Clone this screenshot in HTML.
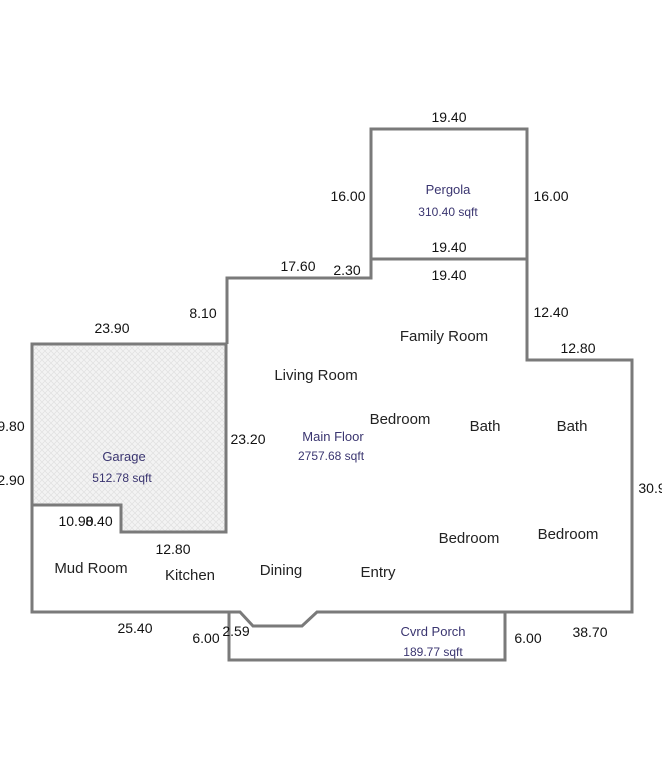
<!DOCTYPE html>
<html><head><meta charset="utf-8"><style>
html,body{margin:0;padding:0;background:#fff;}
svg{display:block;}
text{font-family:"Liberation Sans",Arial,sans-serif;}
.d{font-size:14px;fill:#111;}
.r{font-size:15px;fill:#222;}
.b{fill:#3a3570;}
</style></head><body>
<svg width="662" height="768" viewBox="0 0 662 768" xmlns="http://www.w3.org/2000/svg">
<defs>
<pattern id="h" width="6" height="6" patternUnits="userSpaceOnUse">
<rect width="6" height="6" fill="#f3f3f3"/>
<path d="M0 0L6 6M6 0L0 6" stroke="#e0e0e0" stroke-width="0.7"/>
</pattern>
</defs>
<g fill="none" stroke="#7a7a7a" stroke-width="3" stroke-linejoin="miter">
<polygon points="32,344 226,344 226,532 121,532 121,505 32,505" fill="url(#h)"/>
<rect x="371" y="129" width="156" height="130"/>
<polyline points="32,505 32,612 240,612 253,626 302,626 317,612 632,612 632,360 527,360 527,259 371,259 371,278 227,278 227,344"/>
<polyline points="229,612 229,660 505,660 505,612"/>
</g>
<g class="d" text-anchor="middle">
<text x="449" y="122">19.40</text>
<text x="348" y="201">16.00</text>
<text x="551" y="201">16.00</text>
<text x="449" y="252">19.40</text>
<text x="449" y="280">19.40</text>
<text x="298" y="271">17.60</text>
<text x="347" y="275">2.30</text>
<text x="203" y="318">8.10</text>
<text x="551" y="317">12.40</text>
<text x="578" y="353">12.80</text>
<text x="112" y="333">23.90</text>
<text x="11" y="431">9.80</text>
<text x="11" y="485">2.90</text>
<text x="248" y="444">23.20</text>
<text x="76" y="526">10.90</text>
<text x="99" y="526">8.40</text>
<text x="173" y="554">12.80</text>
<text x="135" y="633">25.40</text>
<text x="206" y="643">6.00</text>
<text x="236" y="636">2.59</text>
<text x="528" y="643">6.00</text>
<text x="590" y="637">38.70</text>
<text x="652" y="493">30.9</text>
</g>
<g class="r" text-anchor="middle">
<text x="444" y="341">Family Room</text>
<text x="316" y="380">Living Room</text>
<text x="400" y="424">Bedroom</text>
<text x="485" y="431">Bath</text>
<text x="572" y="431">Bath</text>
<text x="469" y="543">Bedroom</text>
<text x="568" y="539">Bedroom</text>
<text x="91" y="573">Mud Room</text>
<text x="190" y="580">Kitchen</text>
<text x="281" y="575">Dining</text>
<text x="378" y="577">Entry</text>
</g>
<g class="b" text-anchor="middle">
<text x="448" y="194" font-size="13">Pergola</text>
<text x="448" y="216" font-size="12">310.40 sqft</text>
<text x="124" y="461" font-size="13">Garage</text>
<text x="122" y="482" font-size="12">512.78 sqft</text>
<text x="333" y="441" font-size="13">Main Floor</text>
<text x="331" y="460" font-size="12">2757.68 sqft</text>
<text x="433" y="636" font-size="13">Cvrd Porch</text>
<text x="433" y="656" font-size="12">189.77 sqft</text>
</g>
</svg>
</body></html>
